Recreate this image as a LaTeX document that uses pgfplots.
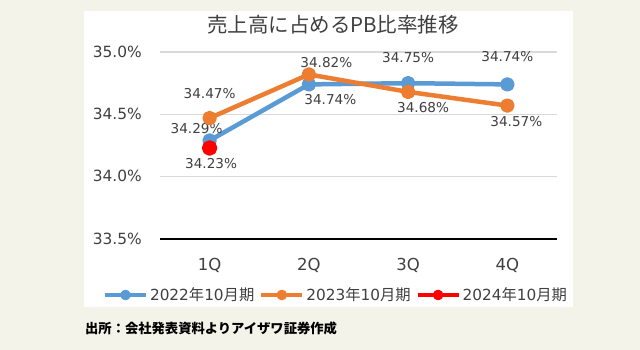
\documentclass[border=0pt]{standalone}
\usepackage{fontspec}
\setmainfont{DejaVu Sans}
\newfontfamily\cjk{Noto Sans CJK JP}
\usepackage{pgfplots}
\usepackage{pgfplotstable}
\pgfplotsset{compat=1.18}
\definecolor{bg}{HTML}{F4F3EA}
\definecolor{c1}{HTML}{5B9BD5}
\definecolor{c2}{HTML}{ED7D31}
\definecolor{c3}{HTML}{FF0000}
\definecolor{txt}{HTML}{404040}
\definecolor{gridc}{HTML}{D9D9D9}
\pgfplotstableread{
x y dx dy
0 34.29 -13 11.5
1 34.74 21.5 -15
2 34.75 0 26
3 34.74 0 27.5
}\tA
\pgfplotstableread{
x y dx dy
0 34.47 0 25
1 34.82 17.5 12
2 34.68 15 -15.3
3 34.57 9 -15.5
}\tB
\pgfplotstableread{
x y dx dy
0 34.23 1.5 -16
}\tC
\begin{document}
\begin{tikzpicture}
\fill[bg] (-160pt,-111pt) rectangle (480pt,239pt);
\fill[white] (-75.7pt,-67.7pt) rectangle (413.3pt,228pt);
\node[font=\cjk\fontsize{20.5}{24}\selectfont, text=txt] at (173pt,214pt) {売上高に占めるPB比率推移};
\node[font=\cjk\bfseries\fontsize{13.3}{16}\selectfont, text=black, anchor=west, inner sep=0pt] at (-75pt,-89.5pt) {出所：会社発表資料よりアイザワ証券作成};
\begin{axis}[
  scale only axis, width=397pt, height=187pt,
  at={(0pt,0pt)}, anchor=south west,
  xmin=-0.5, xmax=3.5, ymin=33.5, ymax=35.0,
  axis x line=bottom, axis y line=left,
  x axis line style={black, line width=1.5pt, -},
  y axis line style={draw=none},
  major tick length=0pt,
  xtick={0,1,2,3}, xticklabels={1Q,2Q,3Q,4Q},
  ytick={33.5,34,34.5,35},
  ymajorgrids, grid style={gridc, line width=1.2pt},
  /pgf/number format/assume math mode=true,
  yticklabel={\pgfmathprintnumber[fixed,fixed zerofill,precision=1]{\tick}\%},
  yticklabel style={anchor=base east, inner sep=0pt, xshift=-18pt, yshift=-5.3pt, font=\fontsize{15.4}{18}\selectfont, text=txt},
  xticklabel style={anchor=base, inner sep=0pt, yshift=-32pt, font=\fontsize{16.5}{19}\selectfont, text=txt},
  clip=false,
  legend columns=3,
  legend style={at={(0.4433,-0.2995)}, anchor=center, draw=none, fill=none, inner sep=0pt,
    font=\fontsize{15.3}{18}\selectfont, text=txt,
    nodes={inner xsep=2pt, inner ysep=0pt},
    /tikz/every even column/.append style={column sep=3pt}},
  legend cell align=left,
]
\addplot[c1, line width=4.5pt, line join=round, mark=*, mark size=5pt, mark options={solid, fill=c1, draw=none},
  point meta=y,
  nodes near coords={\pgfmathprintnumber[fixed,fixed zerofill,precision=2]{\pgfplotspointmeta}\%},
  visualization depends on={\thisrow{dx}\as\dx},
  visualization depends on={\thisrow{dy}\as\dy},
  every node near coord/.append style={anchor=center, xshift=\dx pt, yshift=\dy pt, font=\fontsize{13.6}{16}\selectfont, text=txt, inner sep=0pt},
  legend image code/.code={\draw[c1, line width=4pt] (0pt,0pt) -- (41pt,0pt); \fill[c1] (20.5pt,0pt) circle (3pt);}
] table[x=x, y=y] {\tA};
\addlegendentry{2022{\cjk 年}10{\cjk 月期}}
\addplot[c2, line width=4.5pt, line join=round, mark=*, mark size=5pt, mark options={solid, fill=c2, draw=none},
  point meta=y,
  nodes near coords={\pgfmathprintnumber[fixed,fixed zerofill,precision=2]{\pgfplotspointmeta}\%},
  visualization depends on={\thisrow{dx}\as\dx},
  visualization depends on={\thisrow{dy}\as\dy},
  every node near coord/.append style={anchor=center, xshift=\dx pt, yshift=\dy pt, font=\fontsize{13.6}{16}\selectfont, text=txt, inner sep=0pt},
  legend image code/.code={\draw[c2, line width=4pt] (0pt,0pt) -- (41pt,0pt); \fill[c2] (20.5pt,0pt) circle (3pt);}
] table[x=x, y=y] {\tB};
\addlegendentry{2023{\cjk 年}10{\cjk 月期}}
\addplot[c3, line width=4.5pt, line join=round, mark=*, mark size=5.5pt, mark options={solid, fill=c3, draw=none},
  point meta=y,
  nodes near coords={\pgfmathprintnumber[fixed,fixed zerofill,precision=2]{\pgfplotspointmeta}\%},
  visualization depends on={\thisrow{dx}\as\dx},
  visualization depends on={\thisrow{dy}\as\dy},
  every node near coord/.append style={anchor=center, xshift=\dx pt, yshift=\dy pt, font=\fontsize{13.6}{16}\selectfont, text=txt, inner sep=0pt},
  legend image code/.code={\draw[c3, line width=4pt] (0pt,0pt) -- (41pt,0pt); \fill[c3] (20.5pt,0pt) circle (3pt);}
] table[x=x, y=y] {\tC};
\addlegendentry{2024{\cjk 年}10{\cjk 月期}}
\end{axis}
\pgfresetboundingbox
\useasboundingbox (-160pt,-111pt) rectangle (480pt,239pt);
\end{tikzpicture}
\end{document}
